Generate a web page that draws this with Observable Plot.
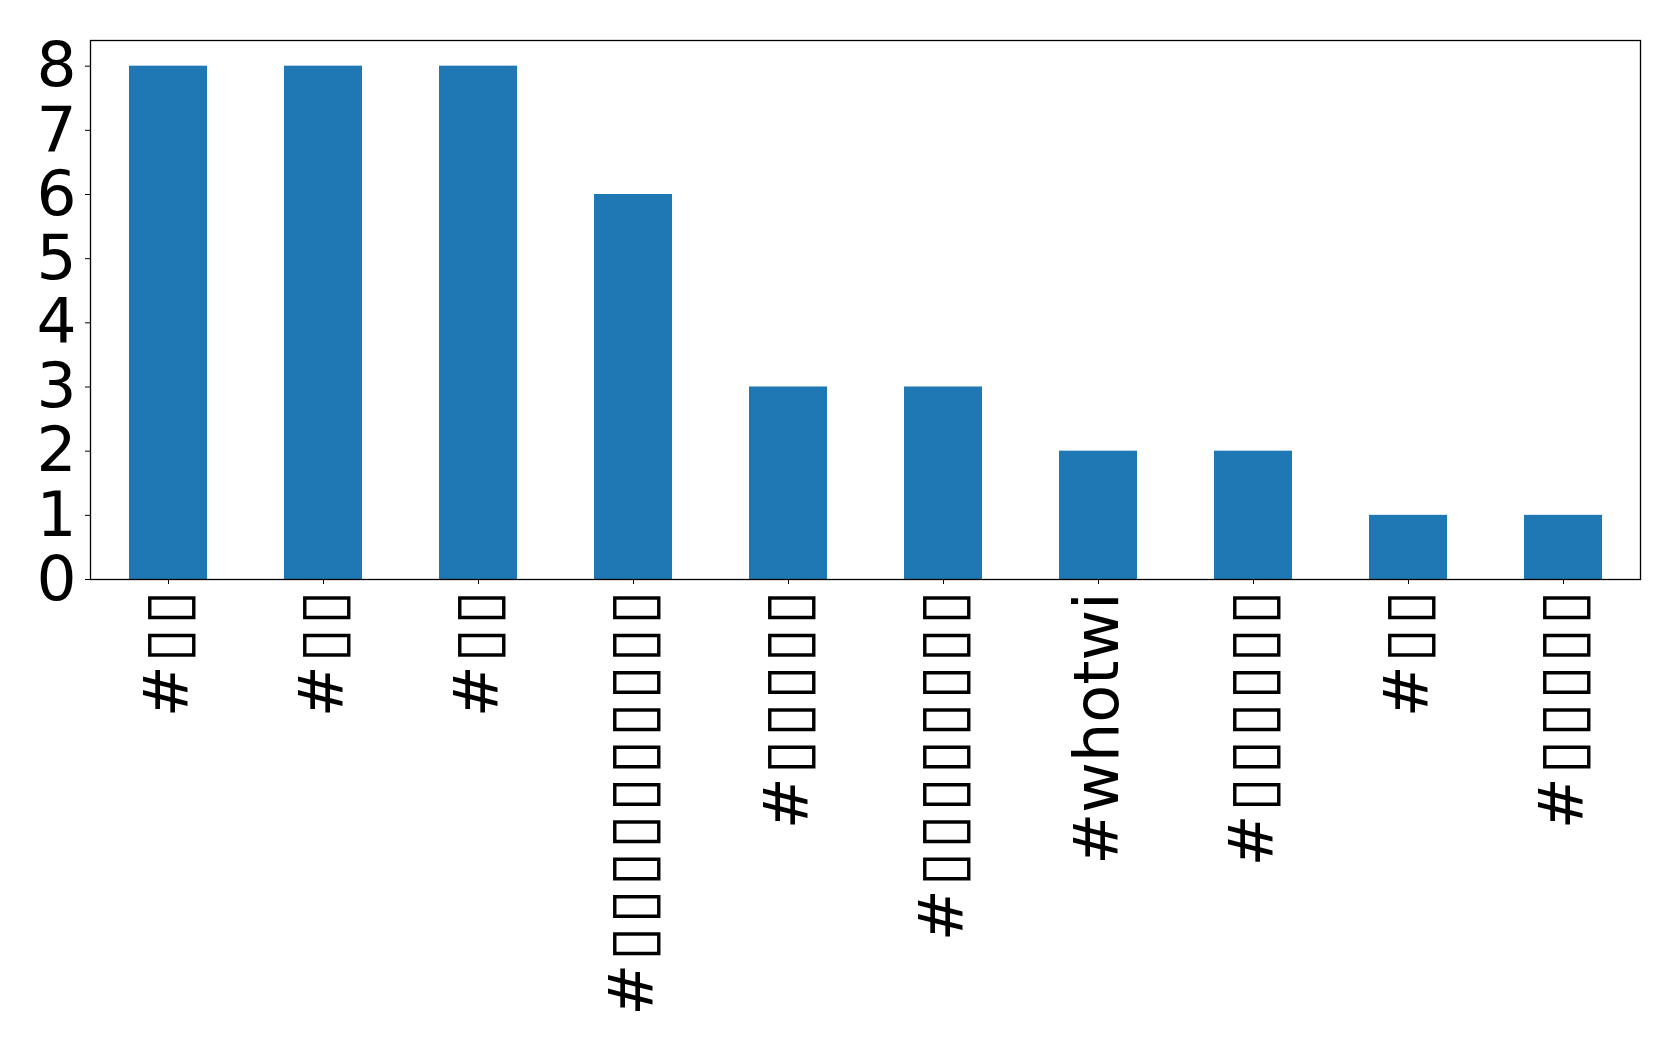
<!DOCTYPE html>
<html>
<head>
<meta charset="utf-8">
<script src="https://cdn.jsdelivr.net/npm/d3@7"></script>
<script src="https://cdn.jsdelivr.net/npm/@observablehq/plot@0.6"></script>
<style>
  html, body { margin: 0; padding: 0; background: #fff; }
  svg { display: block; }
</style>
</head>
<body>
<div id="chart"></div>
<script>
const hashtags = ["#▯▯", "#▯▯ ", "#▯▯  ", "#▯▯▯▯▯▯▯▯▯▯", "#▯▯▯▯▯", "#▯▯▯▯▯▯▯▯", "#whotwi", "#▯▯▯▯▯▯", "#▯▯   ", "#▯▯▯▯▯ "];
const counts = [8, 8, 8, 6, 3, 3, 2, 2, 1, 1];
const yTicks = [0, 1, 2, 3, 4, 5, 6, 7, 8];

const data = hashtags.map((h, i) => ({tag: h, count: counts[i]}));

const chart = Plot.plot({
  width: 1679,
  height: 1056,
  marginLeft: 90,
  marginRight: 39,
  marginTop: 40,
  marginBottom: 477,
  style: {fontFamily: "DejaVu Sans", background: "#fff", color: "#000"},
  x: {domain: hashtags, paddingInner: 0.5, paddingOuter: 0.25, label: null},
  y: {domain: [0, 8.4], label: null},
  marks: [
    Plot.barY(data, {x: "tag", y: "count", fill: "#1f77b4"}),
    Plot.frame({stroke: "#000", strokeWidth: 1.3}),
    Plot.axisY({ticks: yTicks, tickSize: 5, tickPadding: 9, fontSize: 63, tickFormat: d => String(d), label: null, stroke: "#000", color: "#000"}),
    Plot.axisX({tickSize: 5, tickPadding: 8, fontSize: 62, tickRotate: -90, label: null, tickFormat: d => d.trim(), stroke: "#000", color: "#000"})
  ]
});
document.getElementById("chart").appendChild(chart);
// widen the placeholder glyph boxes to match the reference's glyph advance
d3.select(chart).selectAll("text").each(function() {
  const t = this.textContent;
  if (t.includes("▯")) {
    this.style.letterSpacing = "3.2px";
    this.setAttribute("dx", "5");
  }
});
</script>
</body>
</html>
